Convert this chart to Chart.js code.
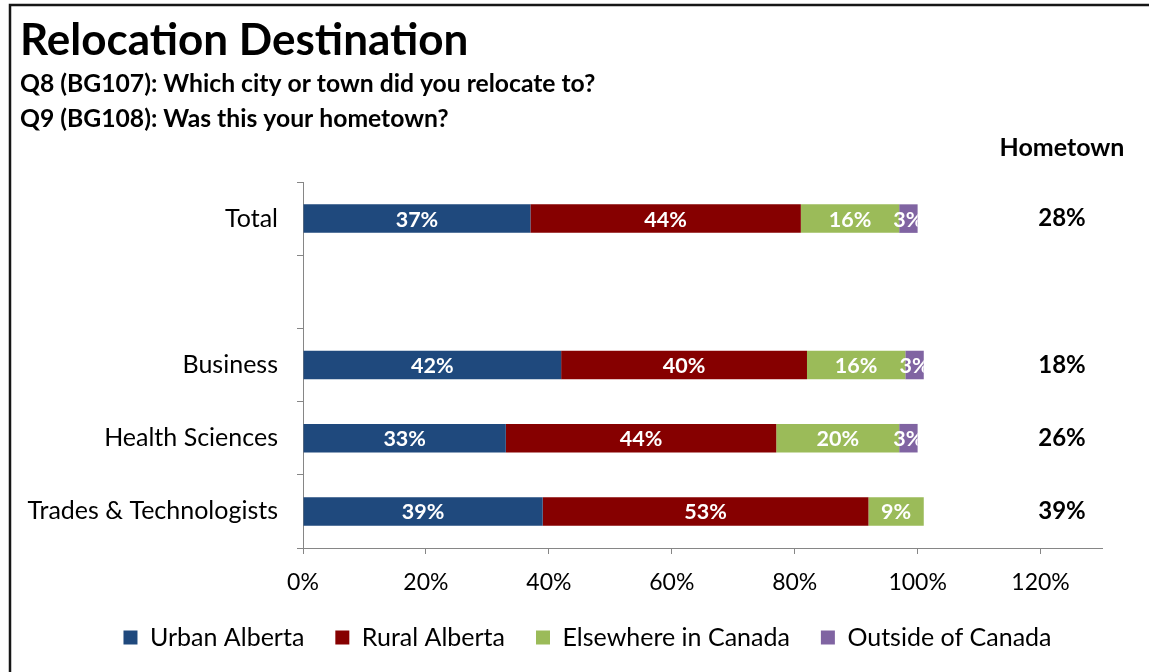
<!DOCTYPE html>
<html>
<head>
<meta charset="utf-8">
<script src="https://cdn.jsdelivr.net/npm/chart.js@4.4.1/dist/chart.umd.min.js"></script>
<style>
  html, body { margin: 0; padding: 0; background: #fff; }
  #wrap { width: 1149px; height: 672px; }
</style>
</head>
<body>
<div id="wrap"><canvas id="c" width="1149" height="672"></canvas></div>
<script>
// Survey results: share of graduates by relocation destination (%)
const categories = ['Total', '', 'Business', 'Health Sciences', 'Trades & Technologists'];
const urbanAlberta = [37, null, 42, 33, 39];
const ruralAlberta = [44, null, 40, 44, 53];
const elsewhereInCanada = [16, null, 16, 20, 9];
const outsideOfCanada = [3, null, 3, 3, null];
// Share who relocated to their hometown (%)
const hometownShare = [28, null, 18, 26, 39];
const xTicks = [0, 20, 40, 60, 80, 100, 120];

const chartTitle = 'Relocation Destination';
const questionLines = [
  'Q8 (BG107): Which city or town did you relocate to?',
  'Q9 (BG108): Was this your hometown?'
];
const hometownHeader = 'Hometown';

const FONT = 'Lato, "Open Sans", sans-serif';
const AXIS_GREY = '#868686';

// Frame, headings and the hometown column
const decorPlugin = {
  id: 'decor',
  beforeDraw(chart) {
    const ctx = chart.ctx;
    ctx.save();
    ctx.fillStyle = '#fff';
    ctx.fillRect(0, 0, chart.width, chart.height);
    ctx.strokeStyle = '#161616';
    ctx.lineWidth = 2.5;
    ctx.beginPath();
    ctx.moveTo(10, chart.height);
    ctx.lineTo(10, 5);
    ctx.lineTo(chart.width, 5);
    ctx.stroke();

    ctx.fillStyle = '#000';
    ctx.textAlign = 'left';
    ctx.textBaseline = 'middle';
    ctx.font = 'bold 44px ' + FONT;
    ctx.fillText(chartTitle, 20, 41);
    ctx.font = 'bold 24.7px ' + FONT;
    ctx.fillText(questionLines[0], 20, 84);
    ctx.fillText(questionLines[1], 20, 119);
    ctx.textAlign = 'center';
    ctx.font = 'bold 25px ' + FONT;
    ctx.fillText(hometownHeader, 1062, 148);
    ctx.restore();
  },
  afterDatasetsDraw(chart) {
    const ctx = chart.ctx;
    const area = chart.chartArea;
    const yScale = chart.scales.y;
    ctx.save();
    ctx.textAlign = 'center';
    ctx.textBaseline = 'middle';

    categories.forEach((cat, i) => {
      // right end of the stacked bar, used to clip labels that overflow it
      let stackEnd = null;
      chart.data.datasets.forEach((ds, d) => {
        if (ds.data[i] == null) return;
        const el = chart.getDatasetMeta(d).data[i];
        stackEnd = stackEnd == null ? el.x : Math.max(stackEnd, el.x);
      });
      chart.data.datasets.forEach((ds, d) => {
        const v = ds.data[i];
        if (v == null) return;
        const p = chart.getDatasetMeta(d).data[i].getProps(['x', 'y', 'base', 'height'], true);
        ctx.save();
        ctx.beginPath();
        ctx.rect(area.left, p.y - p.height / 2, stackEnd - area.left, p.height);
        ctx.clip();
        ctx.fillStyle = '#fff';
        ctx.font = 'bold 21.5px ' + FONT;
        ctx.fillText(v + '%', (p.x + p.base) / 2, p.y + 1);
        ctx.restore();
      });

      const h = hometownShare[i];
      if (h != null) {
        ctx.fillStyle = '#000';
        ctx.font = 'bold 24px ' + FONT;
        ctx.fillText(h + '%', 1062, yScale.getPixelForValue(i));
      }
    });
    ctx.restore();
  }
};

const series = [
  { label: 'Urban Alberta', data: urbanAlberta, color: '#1F497D' },
  { label: 'Rural Alberta', data: ruralAlberta, color: '#860000' },
  { label: 'Elsewhere in Canada', data: elsewhereInCanada, color: '#9BBB59' },
  { label: 'Outside of Canada', data: outsideOfCanada, color: '#8064A2' }
];

new Chart(document.getElementById('c'), {
  type: 'bar',
  data: {
    labels: categories,
    datasets: series.map(s => ({
      label: s.label,
      data: s.data,
      backgroundColor: s.color,
      borderWidth: 0,
      categoryPercentage: 1,
      barPercentage: 0.39
    }))
  },
  options: {
    indexAxis: 'y',
    responsive: false,
    animation: false,
    devicePixelRatio: 1,
    layout: { padding: { left: 26, right: 0, top: 182, bottom: 12 } },
    plugins: {
      tooltip: { enabled: false },
      legend: {
        position: 'bottom',
        labels: {
          boxWidth: 14,
          boxHeight: 14,
          padding: 31,
          color: '#000',
          font: { family: FONT, size: 25 }
        }
      }
    },
    scales: {
      x: {
        stacked: true,
        min: 0,
        max: 130,
        afterBuildTicks(scale) {
          scale.ticks = xTicks.map(v => ({ value: v }));
        },
        afterFit(scale) { scale.height = 46; },
        border: { display: true, color: AXIS_GREY, width: 1 },
        grid: { display: true, drawOnChartArea: false, drawTicks: true, tickLength: 6, color: AXIS_GREY },
        ticks: {
          padding: 15,
          color: '#000',
          font: { family: FONT, size: 23 },
          callback: v => v + '%'
        }
      },
      y: {
        stacked: true,
        afterFit(scale) { scale.width = 277; },
        border: { display: true, color: AXIS_GREY, width: 1 },
        grid: { display: true, drawOnChartArea: false, drawTicks: true, tickLength: 6, color: AXIS_GREY, offset: true },
        ticks: {
          padding: 19,
          color: '#000',
          font: { family: FONT, size: 25 }
        }
      },
      yRight: {
        type: 'linear',
        position: 'right',
        min: 0,
        max: 1,
        afterFit(scale) { scale.width = 47; },
        border: { display: false },
        grid: { display: false },
        ticks: { display: false }
      }
    }
  },
  plugins: [decorPlugin]
});
</script>
</body>
</html>
